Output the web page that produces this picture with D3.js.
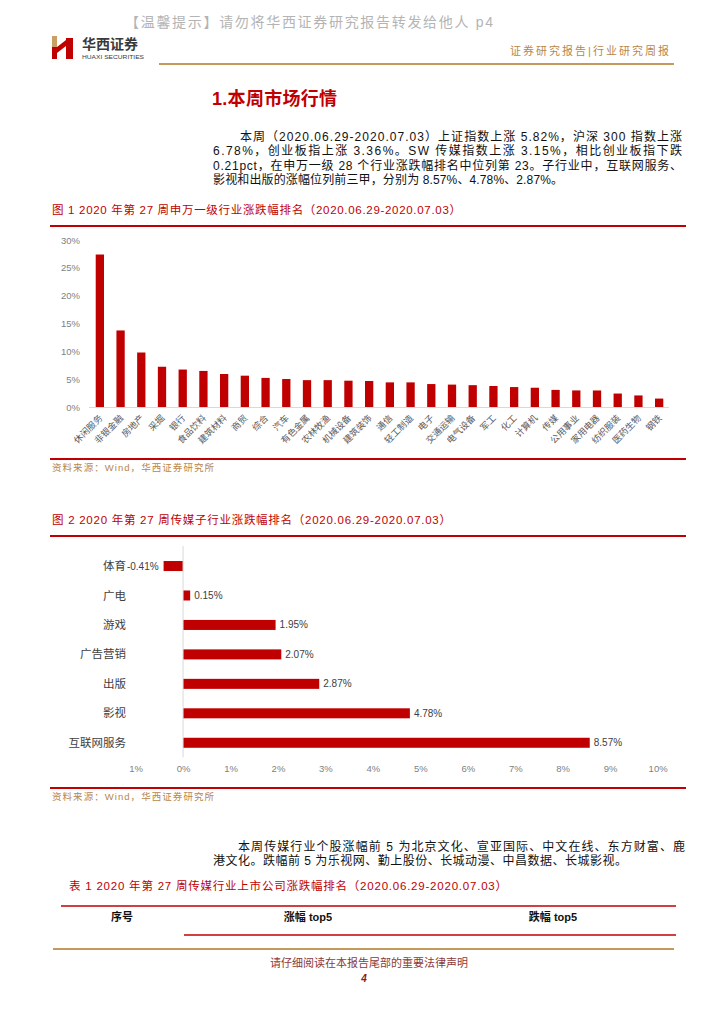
<!DOCTYPE html>
<html lang="zh-CN">
<head>
<meta charset="utf-8">
<title>传媒行业周报 p4</title>
<script src="https://cdn.jsdelivr.net/npm/d3@7"></script>
<style>
  body { margin: 0; background: #fff; }
  svg { display: block; }
  text { font-family: "Liberation Sans", "Noto Sans CJK SC", sans-serif; }
</style>
</head>
<body>
<svg id="page" width="724" height="1024"></svg>
<script>
// 图1：申万一级行业涨跌幅（%）
const industries = [
  "休闲服务", "非银金融", "房地产", "采掘", "银行", "食品饮料", "建筑材料",
  "商贸", "综合", "汽车", "有色金属", "农林牧渔", "机械设备", "建筑装饰",
  "通信", "轻工制造", "电子", "交通运输", "电气设备", "军工", "化工",
  "计算机", "传媒", "公用事业", "家用电器", "纺织服装", "医药生物", "钢铁"
];
const industryChange = [
  27.4, 13.8, 9.85, 7.3, 6.8, 6.55, 6.0,
  5.7, 5.3, 5.1, 4.9, 4.9, 4.8, 4.75,
  4.5, 4.5, 4.2, 4.1, 4.0, 3.85, 3.66,
  3.54, 3.15, 3.06, 3.05, 2.5, 2.16, 1.6
];
const industryTicks = [0, 5, 10, 15, 20, 25, 30];

// 图2：传媒子行业涨跌幅（%）
const mediaSubs = ["体育", "广电", "游戏", "广告营销", "出版", "影视", "互联网服务"];
const mediaChange = [-0.41, 0.15, 1.95, 2.07, 2.87, 4.78, 8.57];
const mediaTicks = [-1, 0, 1, 2, 3, 4, 5, 6, 7, 8, 9, 10];
const mediaTickLabels = ["1%", "0%", "1%", "2%", "3%", "4%", "5%", "6%", "7%", "8%", "9%", "10%"];

// 正文段落（按原图分行）
const para1 = [
  "本周（2020.06.29-2020.07.03）上证指数上涨 5.82%，沪深 300 指数上涨",
  "6.78%，创业板指上涨 3.36%。SW 传媒指数上涨 3.15%，相比创业板指下跌",
  "0.21pct，在申万一级 28 个行业涨跌幅排名中位列第 23。子行业中，互联网服务、",
  "影视和出版的涨幅位列前三甲，分别为 8.57%、4.78%、2.87%。"
];
const para2 = [
  "本周传媒行业个股涨幅前 5 为北京文化、宣亚国际、中文在线、东方财富、鹿",
  "港文化。跌幅前 5 为乐视网、勤上股份、长城动漫、中昌数据、长城影视。"
];

const RED = "#c00000";
const GOLD = "#c39a5c";
const GRAY = "#7f7f7f";

const svg = d3.select("#page");

// ---------- 页眉 ----------
svg.append("text")
  .attr("x", 125).attr("y", 27)
  .attr("textLength", 368).attr("lengthAdjust", "spacing")
  .style("font-size", "14px").style("fill", "#b4b4b4")
  .text("【温馨提示】请勿将华西证券研究报告转发给他人 p4");

// logo（简化）
const logo = svg.append("g");
logo.append("rect").attr("x", 52).attr("y", 36).attr("width", 5).attr("height", 11).attr("fill", "#c9a063");
logo.append("rect").attr("x", 52).attr("y", 47).attr("width", 5).attr("height", 12).attr("fill", RED);
logo.append("path").attr("d", "M57,47 L66,40 L66,46 L57,53 Z").attr("fill", RED);
logo.append("rect").attr("x", 66).attr("y", 38).attr("width", 7).attr("height", 21).attr("fill", RED);

svg.append("text")
  .attr("x", 82).attr("y", 49)
  .style("font-size", "14px").style("font-weight", "bold").style("fill", "#3a3a3a")
  .text("华西证券");
svg.append("text")
  .attr("x", 82).attr("y", 59)
  .attr("textLength", 62).attr("lengthAdjust", "spacingAndGlyphs")
  .style("font-size", "5.5px").style("fill", "#3a3a3a")
  .text("HUAXI SECURITIES");

svg.append("text")
  .attr("x", 510).attr("y", 55)
  .attr("textLength", 159).attr("lengthAdjust", "spacing")
  .style("font-size", "11px").style("fill", "#b8864b")
  .text("证券研究报告|行业研究周报");

svg.append("line")
  .attr("x1", 159).attr("x2", 674).attr("y1", 64).attr("y2", 64)
  .attr("stroke", GOLD).attr("stroke-width", 2);

// ---------- 标题与正文 ----------
svg.append("text")
  .attr("x", 212).attr("y", 105)
  .attr("textLength", 125).attr("lengthAdjust", "spacing")
  .style("font-size", "18px").style("font-weight", "bold").style("fill", RED)
  .text("1.本周市场行情");

// 段落：两端对齐用 textLength 模拟
function paragraph(lines, x0, x1, xEnd, yTop, lastEnd) {
  svg.append("g").selectAll("text")
    .data(lines)
    .enter()
    .append("text")
    .attr("x", (d, i) => (i === 0 ? x0 : x1))
    .attr("y", (d, i) => yTop + i * 14.3)
    .attr("textLength", (d, i) =>
      i === lines.length - 1 ? lastEnd - x1 : xEnd - (i === 0 ? x0 : x1))
    .attr("lengthAdjust", "spacing")
    .style("font-size", "12px")
    .style("fill", "#111")
    .text((d) => d);
}
paragraph(para1, 240, 213, 682, 141, 563);

// ---------- 图1 ----------
function figureTitle(y, x2, txt) {
  svg.append("text")
    .attr("x", 52).attr("y", y)
    .attr("textLength", x2 - 52).attr("lengthAdjust", "spacing")
    .style("font-size", "11.5px").style("fill", RED)
    .text(txt);
}
function redRule(y, x1, x2, w) {
  svg.append("line")
    .attr("x1", x1).attr("x2", x2).attr("y1", y).attr("y2", y)
    .attr("stroke", RED).attr("stroke-width", w || 2);
}
function source(y) {
  svg.append("text")
    .attr("x", 52).attr("y", y)
    .attr("textLength", 162).attr("lengthAdjust", "spacing")
    .style("font-size", "9.5px").style("fill", "#b8864b")
    .text("资料来源：Wind，华西证券研究所");
}

figureTitle(214, 461, "图 1 2020 年第 27 周申万一级行业涨跌幅排名（2020.06.29-2020.07.03）");
redRule(226, 50, 686);

const x1 = d3.scaleBand().domain(industries).range([89.5, 669.5]).paddingInner(0.6).paddingOuter(0.3);
const y1 = d3.scaleLinear().domain([0, 30]).range([407.5, 240]);

const g1 = svg.append("g");

g1.append("g")
  .attr("transform", "translate(89,0)")
  .call(d3.axisLeft(y1).tickValues(industryTicks).tickSize(0).tickPadding(9).tickFormat((d) => d + "%"))
  .call((g) => g.select(".domain").remove())
  .selectAll("text")
  .style("font-family", "Liberation Sans, sans-serif")
  .style("font-size", "9.5px")
  .style("fill", GRAY);

g1.selectAll(".bar")
  .data(industryChange)
  .enter()
  .append("rect")
  .attr("class", "bar")
  .attr("x", (d, i) => x1(industries[i]))
  .attr("y", (d) => y1(d))
  .attr("width", x1.bandwidth())
  .attr("height", (d) => y1(0) - y1(d))
  .attr("fill", RED);

g1.append("line")
  .attr("x1", 89).attr("x2", 669).attr("y1", y1(0)).attr("y2", y1(0))
  .attr("stroke", "#d9d9d9").attr("stroke-width", 1);

// 斜向类目标签
g1.selectAll(".xlab")
  .data(industries)
  .enter()
  .append("text")
  .attr("class", "xlab")
  .attr("transform", (d) => `translate(${x1(d) + x1.bandwidth() / 2 + 1},${y1(0) + 9}) rotate(-45)`)
  .attr("text-anchor", "end")
  .attr("dy", "0.35em")
  .style("font-size", "9px")
  .style("fill", "#595959")
  .text((d) => d);

redRule(459, 50, 686);
source(471);

// ---------- 图2 ----------
figureTitle(524, 451, "图 2 2020 年第 27 周传媒子行业涨跌幅排名（2020.06.29-2020.07.03）");
redRule(536, 50, 686);

const x2 = d3.scaleLinear().domain([-1, 10]).range([135.6, 657.6]);
const y2 = d3.scaleBand().domain(mediaSubs).range([551.3, 757.5]).paddingInner(0.66).paddingOuter(0.33);

const g2 = svg.append("g");

g2.selectAll(".hbar")
  .data(mediaChange)
  .enter()
  .append("rect")
  .attr("class", "hbar")
  .attr("x", (d) => x2(Math.min(0, d)))
  .attr("y", (d, i) => y2(mediaSubs[i]))
  .attr("width", (d) => Math.abs(x2(d) - x2(0)))
  .attr("height", y2.bandwidth())
  .attr("fill", RED);

g2.append("line")
  .attr("x1", x2(0)).attr("x2", x2(0)).attr("y1", 546).attr("y2", 757.5)
  .attr("stroke", "#d9d9d9").attr("stroke-width", 1);

g2.append("g")
  .attr("transform", "translate(0,757.5)")
  .call(d3.axisBottom(x2).tickValues(mediaTicks).tickSize(0).tickPadding(8)
    .tickFormat((d, i) => mediaTickLabels[i]))
  .call((g) => g.select(".domain").remove())
  .selectAll("text")
  .style("font-family", "Liberation Sans, sans-serif")
  .style("font-size", "9.5px")
  .style("fill", GRAY);

// 类目标签
g2.selectAll(".ylab")
  .data(mediaSubs)
  .enter()
  .append("text")
  .attr("class", "ylab")
  .attr("x", 126)
  .attr("y", (d) => y2(d) + y2.bandwidth() / 2)
  .attr("dy", "0.35em")
  .attr("text-anchor", "end")
  .style("font-size", "11.5px")
  .style("fill", "#404040")
  .text((d) => d);

// 数据标签
g2.selectAll(".vlab")
  .data(mediaChange)
  .enter()
  .append("text")
  .attr("class", "vlab")
  .attr("x", (d) => (d < 0 ? x2(d) - 5 : x2(d) + 4))
  .attr("y", (d, i) => y2(mediaSubs[i]) + y2.bandwidth() / 2)
  .attr("dy", "0.35em")
  .attr("text-anchor", (d) => (d < 0 ? "end" : "start"))
  .style("font-size", "10px")
  .style("fill", "#404040")
  .text((d) => d.toFixed(2) + "%");

redRule(788, 50, 686);
source(800);

// ---------- 正文2与表格 ----------
paragraph(para2, 238, 213, 685, 851, 627);

svg.append("text")
  .attr("x", 69).attr("y", 890)
  .attr("textLength", 438).attr("lengthAdjust", "spacing")
  .style("font-size", "11.5px").style("fill", RED)
  .text("表 1 2020 年第 27 周传媒行业上市公司涨跌幅排名（2020.06.29-2020.07.03）");

redRule(906, 61, 676, 1.5);
const heads = [["序号", 122], ["涨幅 top5", 308], ["跌幅 top5", 553]];
svg.append("g").selectAll("text")
  .data(heads)
  .enter()
  .append("text")
  .attr("x", (d) => d[1]).attr("y", 921)
  .attr("text-anchor", "middle")
  .style("font-size", "11px").style("font-weight", "bold").style("fill", "#111")
  .text((d) => d[0]);
redRule(935, 184, 676, 1.5);

// ---------- 页脚 ----------
svg.append("line")
  .attr("x1", 53).attr("x2", 674).attr("y1", 949).attr("y2", 949)
  .attr("stroke", GOLD).attr("stroke-width", 2);
svg.append("text")
  .attr("x", 369).attr("y", 967)
  .attr("text-anchor", "middle")
  .style("font-size", "11px").style("fill", "#8b3a3a")
  .text("请仔细阅读在本报告尾部的重要法律声明");
svg.append("text")
  .attr("x", 364).attr("y", 982)
  .attr("text-anchor", "middle")
  .style("font-size", "10px").style("font-weight", "bold").style("font-style", "italic").style("fill", "#8b1a1a")
  .text("4");
</script>
</body>
</html>
